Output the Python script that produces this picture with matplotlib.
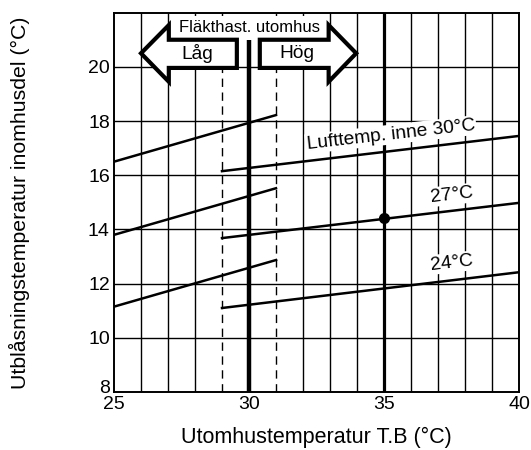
import matplotlib.pyplot as plt
import matplotlib.transforms as mtransforms
from matplotlib.patches import Polygon, Rectangle

plt.rcParams['font.family'] = ['Liberation Sans', 'DejaVu Sans']

# outdoor temp (x) vs supply air temp (y)
low_x = [25, 31]                      # fan speed low
low_30 = [16.5, 18.22]
low_27 = [13.8, 15.52]
low_24 = [11.15, 12.87]

high_x = [29, 40]                     # fan speed high
high_30 = [16.15, 17.45]
high_27 = [13.68, 14.98]
high_24 = [11.1, 12.42]

point_x, point_y = 35, 14.42          # example reading

labels = ['Lufttemp. inne 30°C', '27°C', '24°C']
label_x = [35.25, 37.5, 37.5]
label_y = [17.5, 15.27, 12.77]

xticks = [25, 30, 35, 40]
yticks = [8, 10, 12, 14, 16, 18, 20]

fig = plt.figure(figsize=(5.31, 4.5), dpi=100)
ax = fig.add_axes([0.2147, 0.1289, 0.7627, 0.843])
ax.set_xlim(25, 40)
ax.set_ylim(8, 22)

# grid
for gx in range(26, 40):
    if gx in (29, 31):
        ax.plot([gx, gx], [8, 22], color='black', lw=1.0, ls=(0, (6, 4)), zorder=1)
    elif gx not in (30, 35):
        ax.axvline(gx, color='black', lw=1.0, zorder=1)
for gy in range(10, 22, 2):
    ax.axhline(gy, color='black', lw=1.0, zorder=1)

ax.plot([30, 30], [8, 21.05], color='black', lw=3.2, zorder=5, solid_capstyle='butt')
ax.axvline(35, color='black', lw=2.3, zorder=2)

for yy in (low_30, low_27, low_24):
    ax.plot(low_x, yy, color='black', lw=1.8, zorder=3)
for yy in (high_30, high_27, high_24):
    ax.plot(high_x, yy, color='black', lw=1.8, zorder=3)
ax.plot(point_x, point_y, 'o', color='black', ms=7, zorder=6)

for t, tx, ty in zip(labels, label_x, label_y):
    ax.text(tx, ty, t, fontsize=13.8, ha='center', va='center', rotation=6.5,
            rotation_mode='anchor', zorder=4,
            bbox=dict(facecolor='white', edgecolor='none', pad=1))

# fan speed arrows
left_arrow = [(29.55, 21.0), (27.03, 21.0), (27.03, 21.54), (26.0, 20.5),
              (27.03, 19.45), (27.03, 19.96), (29.55, 19.96)]
right_arrow = [(30.4, 21.0), (32.95, 21.0), (32.95, 21.54), (33.97, 20.5),
               (32.95, 19.45), (32.95, 19.96), (30.4, 19.96)]
ax.add_patch(Rectangle((27.25, 21.0), 5.5, 0.86, facecolor='white', edgecolor='none', zorder=7))
for pts in (left_arrow, right_arrow):
    ax.add_patch(Polygon(pts, closed=True, facecolor='white', edgecolor='black',
                         lw=3.0, joinstyle='miter', zorder=8))
ax.text(30, 21.47, 'Fläkthast. utomhus', fontsize=12, ha='center', va='center', zorder=9)
ax.text(28.1, 20.48, 'Låg', fontsize=13.8, ha='center', va='center', zorder=9)
ax.text(31.78, 20.48, 'Hög', fontsize=13.8, ha='center', va='center', zorder=9)

ax.set_xticks(xticks)
ax.set_yticks(yticks)
ax.tick_params(length=0, labelsize=14, pad=3)
# lift the bottom "8" a bit so it clears the x labels
lab8 = ax.get_yticklabels()[0]
lab8.set_transform(lab8.get_transform() + mtransforms.ScaledTranslation(0, 5 / 100, fig.dpi_scale_trans))
for s in ax.spines.values():
    s.set_linewidth(1.4)
    s.set_zorder(10)
ax.set_xlabel('Utomhustemperatur T.B (°C)', fontsize=15.5, labelpad=10)
ax.set_ylabel('Utblåsningstemperatur inomhusdel (°C)', fontsize=15.3, labelpad=42)

fig.savefig('out.png', dpi=100)
